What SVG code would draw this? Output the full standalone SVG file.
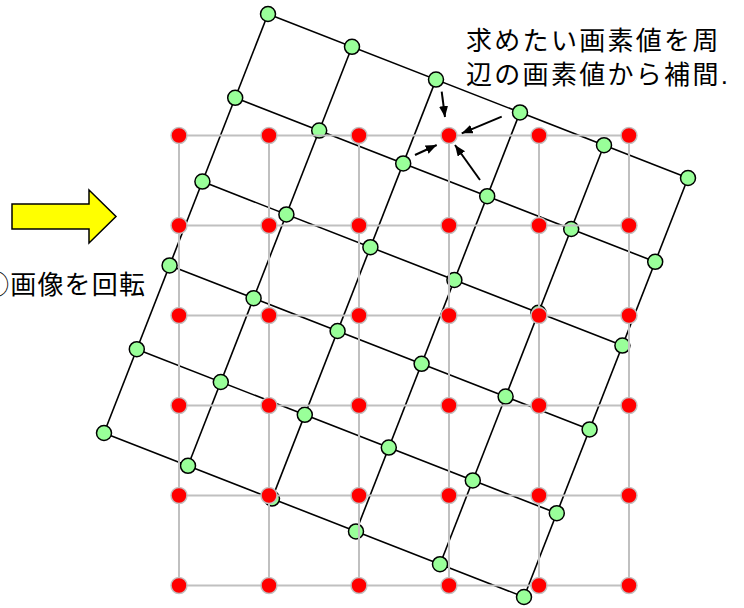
<svg xmlns="http://www.w3.org/2000/svg" width="744" height="608" viewBox="0 0 744 608">
<defs>
<style>
.lat{stroke:#000;stroke-width:1.6;fill:none}
.grid{stroke:#C0C0C0;stroke-width:2;fill:none}
.gn{fill:#99FF99;stroke:#000;stroke-width:1.5}
.rd{fill:#FF0000;stroke:#C0C0C0;stroke-width:1.5}
.arr{stroke:#000;stroke-width:2;fill:none;marker-end:url(#ah)}
.txt{font-family:"Liberation Sans","Noto Sans CJK JP",sans-serif;font-size:26px;fill:#000}
</style>
<marker id="ah" markerUnits="userSpaceOnUse" markerWidth="12" markerHeight="10" refX="11" refY="4.5" orient="auto" viewBox="0 0 12 10">
<path d="M0,0 L11,4.5 L0,9 z" fill="#000"/>
</marker>
</defs>
<rect width="744" height="608" fill="#fff"/>
<g id="lattice-lines">
<line class="lat" x1="268" y1="14" x2="688" y2="178"/>
<line class="lat" x1="235.2" y1="97.8" x2="655.2" y2="261.8"/>
<line class="lat" x1="202.4" y1="181.6" x2="622.4" y2="345.6"/>
<line class="lat" x1="169.6" y1="265.4" x2="589.6" y2="429.4"/>
<line class="lat" x1="136.8" y1="349.2" x2="556.8" y2="513.2"/>
<line class="lat" x1="104" y1="433" x2="524" y2="597"/>
<line class="lat" x1="268" y1="14" x2="104" y2="433"/>
<line class="lat" x1="352" y1="46.8" x2="188" y2="465.8"/>
<line class="lat" x1="436" y1="79.6" x2="272" y2="498.6"/>
<line class="lat" x1="520" y1="112.4" x2="356" y2="531.4"/>
<line class="lat" x1="604" y1="145.2" x2="440" y2="564.2"/>
<line class="lat" x1="688" y1="178" x2="524" y2="597"/>
</g>
<g id="green-nodes">
<g id="g00"><circle class="gn" cx="268" cy="14" r="7.5"/></g>
<g id="g10"><circle class="gn" cx="352" cy="46.8" r="7.5"/></g>
<g id="g20"><circle class="gn" cx="436" cy="79.6" r="7.5"/></g>
<g id="g30"><circle class="gn" cx="520" cy="112.4" r="7.5"/></g>
<g id="g40"><circle class="gn" cx="604" cy="145.2" r="7.5"/></g>
<g id="g50"><circle class="gn" cx="688" cy="178" r="7.5"/></g>
<g id="g01"><circle class="gn" cx="235.2" cy="97.8" r="7.5"/></g>
<g id="g11"><circle class="gn" cx="319.2" cy="130.6" r="7.5"/></g>
<g id="g21"><circle class="gn" cx="403.2" cy="163.4" r="7.5"/></g>
<g id="g31"><circle class="gn" cx="487.2" cy="196.2" r="7.5"/></g>
<g id="g41"><circle class="gn" cx="571.2" cy="229" r="7.5"/></g>
<g id="g51"><circle class="gn" cx="655.2" cy="261.8" r="7.5"/></g>
<g id="g02"><circle class="gn" cx="202.4" cy="181.6" r="7.5"/></g>
<g id="g12"><circle class="gn" cx="286.4" cy="214.4" r="7.5"/></g>
<g id="g22"><circle class="gn" cx="370.4" cy="247.2" r="7.5"/></g>
<g id="g32"><circle class="gn" cx="454.4" cy="280" r="7.5"/></g>
<g id="g42"><circle class="gn" cx="538.4" cy="312.8" r="7.5"/></g>
<g id="g52"><circle class="gn" cx="622.4" cy="345.6" r="7.5"/></g>
<g id="g03"><circle class="gn" cx="169.6" cy="265.4" r="7.5"/></g>
<g id="g13"><circle class="gn" cx="253.6" cy="298.2" r="7.5"/></g>
<g id="g23"><circle class="gn" cx="337.6" cy="331" r="7.5"/></g>
<g id="g33"><circle class="gn" cx="421.6" cy="363.8" r="7.5"/></g>
<g id="g43"><circle class="gn" cx="505.6" cy="396.6" r="7.5"/></g>
<g id="g53"><circle class="gn" cx="589.6" cy="429.4" r="7.5"/></g>
<g id="g04"><circle class="gn" cx="136.8" cy="349.2" r="7.5"/></g>
<g id="g14"><circle class="gn" cx="220.8" cy="382" r="7.5"/></g>
<g id="g24"><circle class="gn" cx="304.8" cy="414.8" r="7.5"/></g>
<g id="g34"><circle class="gn" cx="388.8" cy="447.6" r="7.5"/></g>
<g id="g44"><circle class="gn" cx="472.8" cy="480.4" r="7.5"/></g>
<g id="g54"><circle class="gn" cx="556.8" cy="513.2" r="7.5"/></g>
<g id="g05"><circle class="gn" cx="104" cy="433" r="7.5"/></g>
<g id="g15"><circle class="gn" cx="188" cy="465.8" r="7.5"/></g>
<g id="g25"><circle class="gn" cx="272" cy="498.6" r="7.5"/></g>
<g id="g35"><circle class="gn" cx="356" cy="531.4" r="7.5"/></g>
<g id="g45"><circle class="gn" cx="440" cy="564.2" r="7.5"/></g>
<g id="g55"><circle class="gn" cx="524" cy="597" r="7.5"/></g>
</g>
<g id="grid-lines">
<line class="grid" x1="179" y1="135.5" x2="629" y2="135.5"/>
<line class="grid" x1="179" y1="225.5" x2="629" y2="225.5"/>
<line class="grid" x1="179" y1="315.5" x2="629" y2="315.5"/>
<line class="grid" x1="179" y1="405.5" x2="629" y2="405.5"/>
<line class="grid" x1="179" y1="495.5" x2="629" y2="495.5"/>
<line class="grid" x1="179" y1="585.5" x2="629" y2="585.5"/>
<line class="grid" x1="179" y1="135.5" x2="179" y2="585.5"/>
<line class="grid" x1="269" y1="135.5" x2="269" y2="585.5"/>
<line class="grid" x1="359" y1="135.5" x2="359" y2="585.5"/>
<line class="grid" x1="449" y1="135.5" x2="449" y2="585.5"/>
<line class="grid" x1="539" y1="135.5" x2="539" y2="585.5"/>
<line class="grid" x1="629" y1="135.5" x2="629" y2="585.5"/>
</g>
<g id="red-nodes">
<g id="r00"><circle class="rd" cx="179" cy="135.5" r="8"/></g>
<g id="r10"><circle class="rd" cx="269" cy="135.5" r="8"/></g>
<g id="r20"><circle class="rd" cx="359" cy="135.5" r="8"/></g>
<g id="r30"><circle class="rd" cx="449" cy="135.5" r="8"/></g>
<g id="r40"><circle class="rd" cx="539" cy="135.5" r="8"/></g>
<g id="r50"><circle class="rd" cx="629" cy="135.5" r="8"/></g>
<g id="r01"><circle class="rd" cx="179" cy="225.5" r="8"/></g>
<g id="r11"><circle class="rd" cx="269" cy="225.5" r="8"/></g>
<g id="r21"><circle class="rd" cx="359" cy="225.5" r="8"/></g>
<g id="r31"><circle class="rd" cx="449" cy="225.5" r="8"/></g>
<g id="r41"><circle class="rd" cx="539" cy="225.5" r="8"/></g>
<g id="r51"><circle class="rd" cx="629" cy="225.5" r="8"/></g>
<g id="r02"><circle class="rd" cx="179" cy="315.5" r="8"/></g>
<g id="r12"><circle class="rd" cx="269" cy="315.5" r="8"/></g>
<g id="r22"><circle class="rd" cx="359" cy="315.5" r="8"/></g>
<g id="r32"><circle class="rd" cx="449" cy="315.5" r="8"/></g>
<g id="r42"><circle class="rd" cx="539" cy="315.5" r="8"/></g>
<g id="r52"><circle class="rd" cx="629" cy="315.5" r="8"/></g>
<g id="r03"><circle class="rd" cx="179" cy="405.5" r="8"/></g>
<g id="r13"><circle class="rd" cx="269" cy="405.5" r="8"/></g>
<g id="r23"><circle class="rd" cx="359" cy="405.5" r="8"/></g>
<g id="r33"><circle class="rd" cx="449" cy="405.5" r="8"/></g>
<g id="r43"><circle class="rd" cx="539" cy="405.5" r="8"/></g>
<g id="r53"><circle class="rd" cx="629" cy="405.5" r="8"/></g>
<g id="r04"><circle class="rd" cx="179" cy="495.5" r="8"/></g>
<g id="r14"><circle class="rd" cx="269" cy="495.5" r="8"/></g>
<g id="r24"><circle class="rd" cx="359" cy="495.5" r="8"/></g>
<g id="r34"><circle class="rd" cx="449" cy="495.5" r="8"/></g>
<g id="r44"><circle class="rd" cx="539" cy="495.5" r="8"/></g>
<g id="r54"><circle class="rd" cx="629" cy="495.5" r="8"/></g>
<g id="r05"><circle class="rd" cx="179" cy="585.5" r="8"/></g>
<g id="r15"><circle class="rd" cx="269" cy="585.5" r="8"/></g>
<g id="r25"><circle class="rd" cx="359" cy="585.5" r="8"/></g>
<g id="r35"><circle class="rd" cx="449" cy="585.5" r="8"/></g>
<g id="r45"><circle class="rd" cx="539" cy="585.5" r="8"/></g>
<g id="r55"><circle class="rd" cx="629" cy="585.5" r="8"/></g>
</g>
<g id="interp-arrows">
<line class="arr" x1="441.7" y1="91.7" x2="445" y2="117"/>
<line class="arr" x1="501.7" y1="116.7" x2="461.7" y2="133.3"/>
<line class="arr" x1="415" y1="155" x2="436.7" y2="145"/>
<line class="arr" x1="480" y1="180" x2="455" y2="145"/>
</g>
<g id="rotate-arrow">
<polygon points="12,204 89,204 89,190 116,216.5 89,243 89,229 12,229" fill="#FFFF00" stroke="#000" stroke-width="1.5"/>
</g>
<g id="labels">
<text class="txt" x="-17" y="293.5" letter-spacing="1.2">①画像を回転</text>
<text class="txt" x="466" y="50" letter-spacing="2.3">求めたい画素値を周</text>
<text class="txt" x="466" y="83.5" letter-spacing="2.3">辺の画素値から補間.</text>
</g>
</svg>
